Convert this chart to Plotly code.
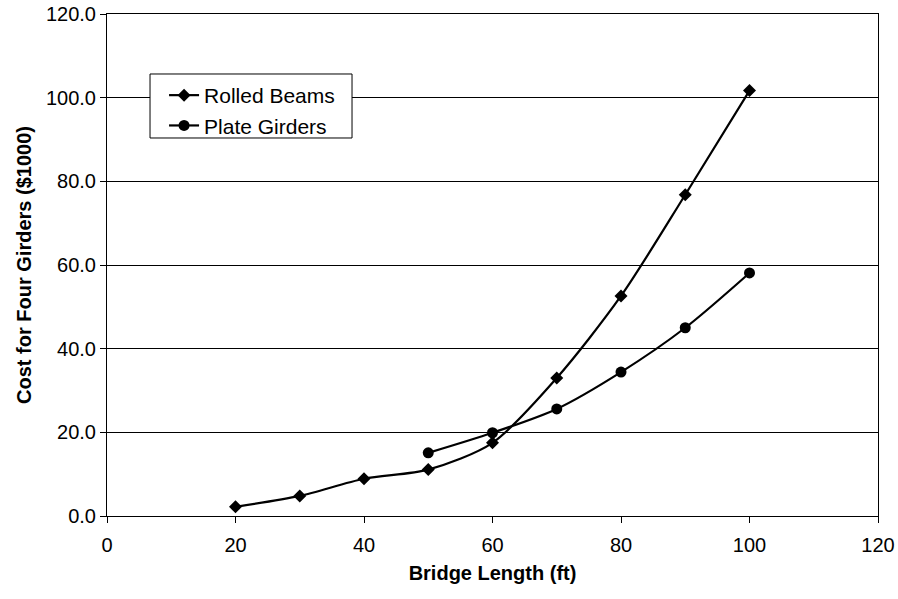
import plotly.graph_objects as go

# Bridge length (ft) and cost for four girders ($1000)
rolled_len = [20, 30, 40, 50, 60, 70, 80, 90, 100]
rolled_cost = [2.2, 4.8, 8.9, 11.1, 17.5, 33.0, 52.6, 76.8, 101.7]
plate_len = [50, 60, 70, 80, 90, 100]
plate_cost = [15.1, 19.9, 25.6, 34.4, 45.0, 58.1]

x_ticks = [0, 20, 40, 60, 80, 100, 120]
y_ticks = [0, 20, 40, 60, 80, 100, 120]

font = "Liberation Sans, Arial, sans-serif"

fig = go.Figure()
fig.add_trace(go.Scatter(
    x=rolled_len, y=rolled_cost, name="Rolled Beams",
    mode="lines+markers",
    line=dict(color="black", width=2.2, shape="spline", smoothing=0.8),
    marker=dict(symbol="diamond", size=10, color="black"),
))
fig.add_trace(go.Scatter(
    x=plate_len, y=plate_cost, name="Plate Girders",
    mode="lines+markers",
    line=dict(color="black", width=2.2, shape="spline", smoothing=0.8),
    marker=dict(symbol="circle", size=11, color="black"),
))

# framed white box behind the legend entries
fig.add_shape(
    type="rect", xref="paper", yref="paper",
    x0=0.0558, x1=0.3178, y0=0.753, y1=0.8805,
    line=dict(color="black", width=1), fillcolor="white", layer="above",
)

fig.update_layout(
    width=898, height=599,
    margin=dict(l=107, r=20, t=14, b=83),
    paper_bgcolor="white", plot_bgcolor="white",
    font=dict(family=font, size=20, color="black"),
    showlegend=True,
    legend=dict(
        x=0.074, y=0.8785, xanchor="left", yanchor="top",
        bgcolor="rgba(0,0,0,0)", borderwidth=0,
        font=dict(family=font, size=21, color="black"),
        tracegroupgap=0, itemwidth=30,
    ),
    xaxis=dict(
        range=[0, 120], tickvals=x_ticks, ticktext=[str(v) for v in x_ticks],
        showgrid=False, zeroline=False, automargin=False,
        showline=True, linecolor="black", linewidth=1, mirror=True,
        ticks="outside", ticklen=6, tickcolor="black",
        tickfont=dict(family=font, size=20), ticklabelstandoff=5,
        title=dict(text="<b>Bridge Length (ft)</b>", font=dict(family=font, size=20), standoff=10),
    ),
    yaxis=dict(
        range=[0, 120], tickvals=y_ticks, ticktext=[f"{v:.1f}" for v in y_ticks],
        showgrid=True, gridcolor="black", gridwidth=1, zeroline=False, automargin=False,
        showline=True, linecolor="black", linewidth=1, mirror=True,
        ticks="outside", ticklen=6, tickcolor="black",
        tickfont=dict(family=font, size=20),
        title=dict(text="<b>Cost for Four Girders ($1000)</b>", font=dict(family=font, size=20), standoff=8),
    ),
)

fig.write_html("out.html")
